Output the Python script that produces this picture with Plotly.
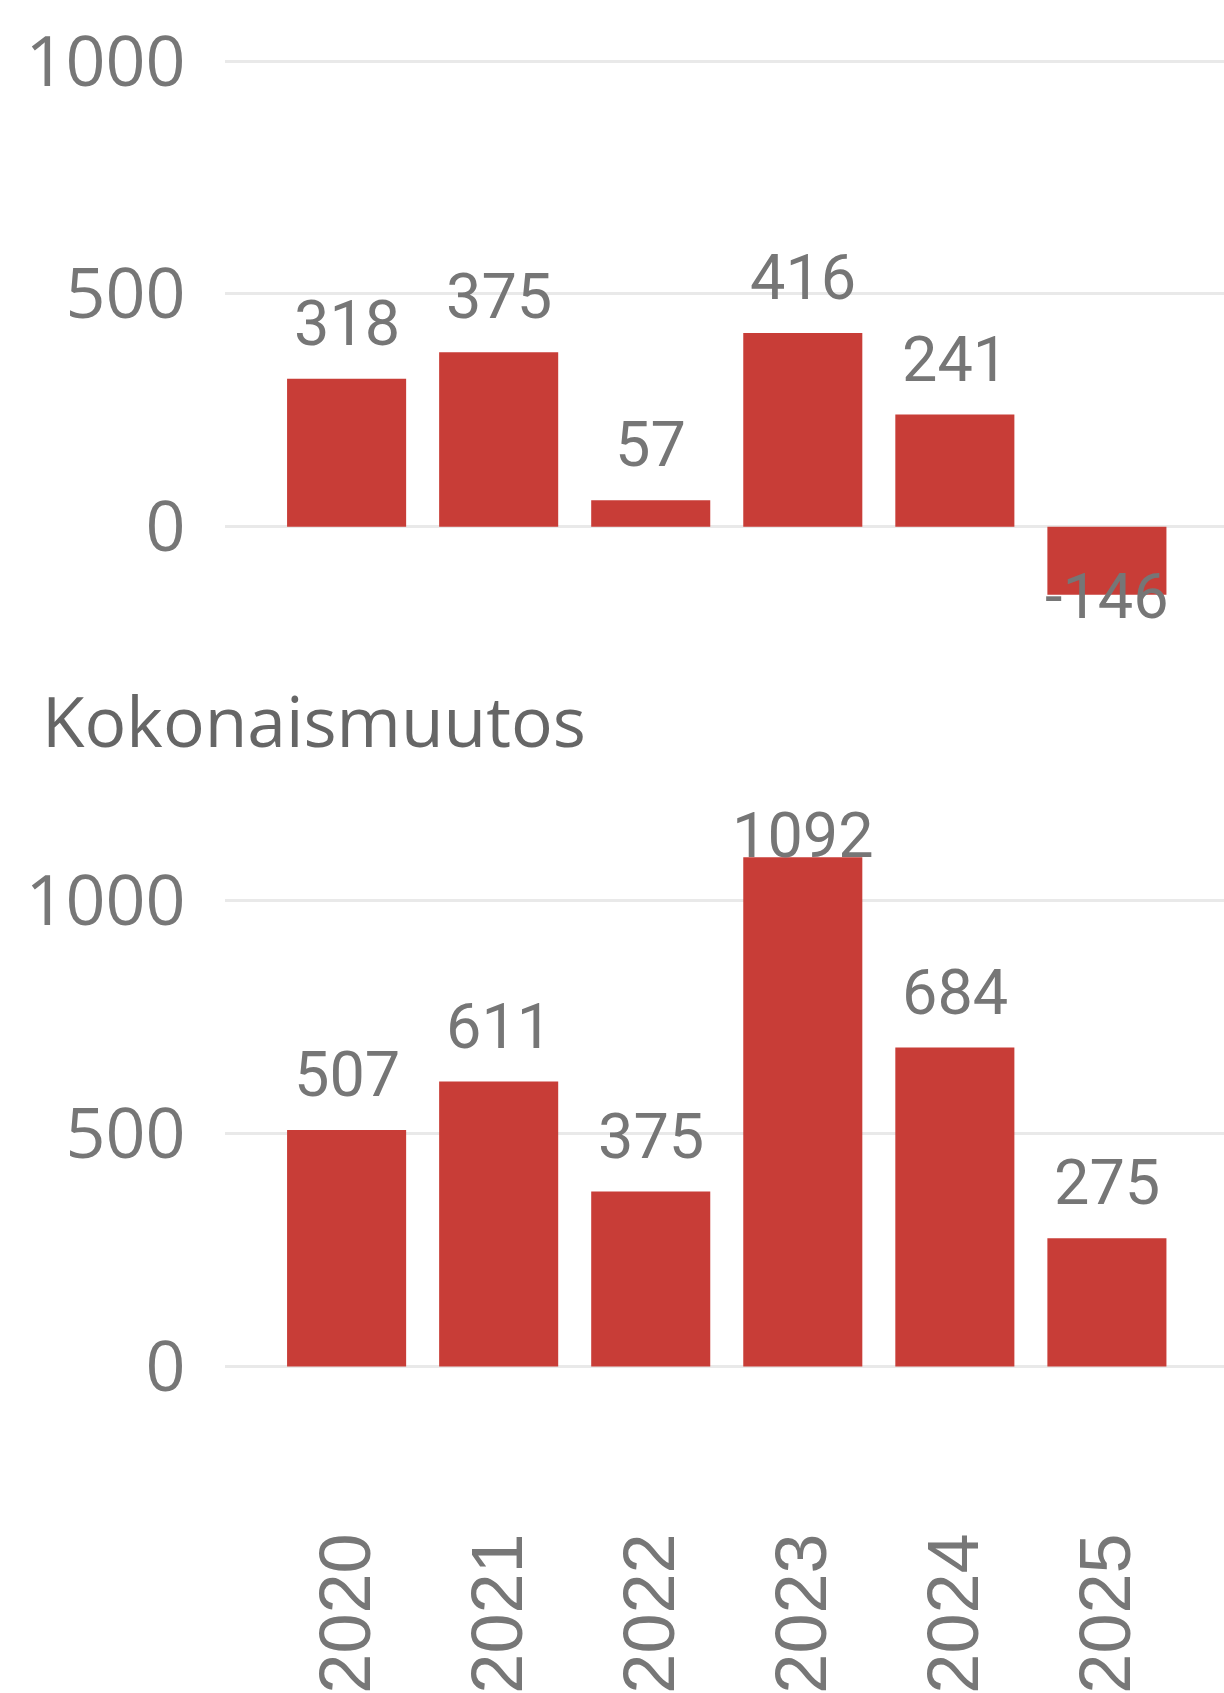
import plotly.graph_objects as go

# ---- data ----
years = ["2020", "2021", "2022", "2023", "2024", "2025"]
top_values = [318, 375, 57, 416, 241, -146]
total_values = [507, 611, 375, 1092, 684, 275]
y_tick_values = [0, 500, 1000]
y_tick_labels = ["0", "500", "1000"]
bottom_title = "Kokonaismuutos"

# ---- styling ----
W, H = 1224, 1693
BAR = "#C83D37"
GRID = "#E9E9E9"
TICK = "#777777"
LABEL = "#767676"
TITLE = "#666666"
LABEL_CAP = {"y": 1020, "y2": 1020}   # labels are kept inside the plot area


def py(p):
    return 1 - p / H


fig = go.Figure()
fig.add_trace(go.Bar(x=years, y=top_values, xaxis="x", yaxis="y",
                     marker=dict(color=BAR, line=dict(width=0)), hoverinfo="skip"))
fig.add_trace(go.Bar(x=years, y=total_values, xaxis="x2", yaxis="y2",
                     marker=dict(color=BAR, line=dict(width=0)), hoverinfo="skip"))

annotations = []
for xref, yref, vals in (("x", "y", top_values), ("x2", "y2", total_values)):
    for i, v in enumerate(vals):
        font = dict(family="Roboto", size=63, color=LABEL)
        if v >= 0:
            annotations.append(dict(x=i, y=min(v, LABEL_CAP[yref]), xref=xref, yref=yref,
                                    text=str(v), showarrow=False, yanchor="bottom",
                                    yshift=17, font=font))
        else:
            annotations.append(dict(x=i, y=v, xref=xref, yref=yref, text=str(v),
                                    showarrow=False, yanchor="middle", yshift=-2,
                                    font=font))

annotations.append(dict(x=40 / W, y=py(720), xref="paper", yref="paper",
                        text=bottom_title, showarrow=False, xanchor="left", yanchor="middle",
                        font=dict(family="Open Sans", size=69.5, color=TITLE)))

xdom = [224.5 / W, 1.0]
xrange = [-0.803, 5.77]

yaxis_common = dict(tickvals=y_tick_values, ticktext=y_tick_labels, showgrid=True,
                    gridcolor=GRID, gridwidth=3, zeroline=False, showline=False,
                    ticks="", ticklabelstandoff=38, automargin=False,
                    tickfont=dict(family="Open Sans", size=70, color=TICK))

fig.update_layout(
    width=W, height=H,
    margin=dict(l=0, r=0, t=0, b=0),
    paper_bgcolor="white", plot_bgcolor="white",
    showlegend=False, bargap=0.217,
    xaxis=dict(domain=xdom, range=xrange, anchor="y", type="category", showticklabels=False,
               showgrid=False, zeroline=False, showline=False, ticks="", automargin=False),
    yaxis=dict(domain=[py(643.1), py(51.9)], range=[-250, 1020], anchor="x", **yaxis_common),
    xaxis2=dict(domain=xdom, range=xrange, anchor="y2", type="category", showgrid=False,
                zeroline=False, showline=False, ticks="", tickangle=-90, automargin=False,
                ticklabelstandoff=105,
                tickfont=dict(family="Liberation Sans", size=72, color=TICK)),
    yaxis2=dict(domain=[py(1413.1), py(806.9)], range=[-100, 1200], anchor="x2", **yaxis_common),
    annotations=annotations,
)

fig.write_html("out.html", config={"displayModeBar": False},
               post_script="document.body.style.margin='0';")
